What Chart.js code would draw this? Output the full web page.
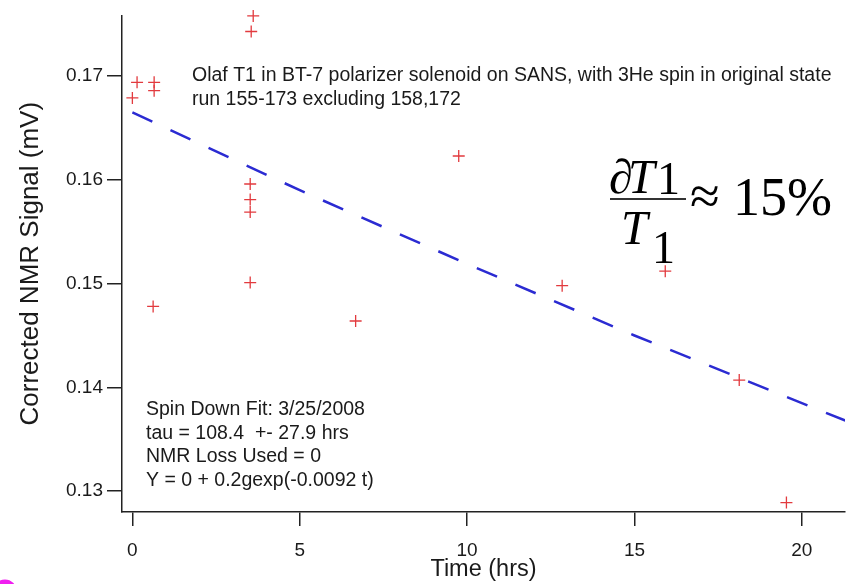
<!DOCTYPE html>
<html>
<head>
<meta charset="utf-8">
<title>Olaf T1 spin-down</title>
<script src="https://cdn.jsdelivr.net/npm/chart.js@4/dist/chart.umd.min.js"></script>
<style>
  html, body { margin: 0; padding: 0; background: #ffffff; }
  canvas { display: block; }
</style>
</head>
<body>
<canvas id="c" width="864" height="584"></canvas>
<script>
// Measured NMR signal after correction, per run
const timeHrs   = [0, 0.14, 0.65, 0.65, 0.62, 3.61, 3.55, 3.52, 3.52, 3.52, 3.52, 6.67, 9.75, 12.84, 15.92, 18.13, 19.54];
const signalMV  = [0.1679, 0.1694, 0.1694, 0.1686, 0.1478, 0.1758, 0.1743, 0.1596, 0.1581, 0.1569, 0.1501, 0.1464, 0.1623, 0.1498, 0.1512, 0.1407, 0.1289];

// Spin-down fit curve (tau = 108.4 hrs)
const fitTimeHrs  = [0, 5, 10, 15, 21.3];
const fitSignalMV = [0.1665, 0.1590, 0.1519, 0.1450, 0.1368];

// Axis ticks
const xTickValues = [0, 5, 10, 15, 20];
const yTickValues = [0.13, 0.14, 0.15, 0.16, 0.17];

const noteTop = [
  'Olaf T1 in BT-7 polarizer solenoid on SANS, with 3He spin in original state',
  'run 155-173 excluding 158,172'
];
const noteFit = [
  'Spin Down Fit: 3/25/2008',
  'tau = 108.4  +- 27.9 hrs',
  'NMR Loss Used = 0',
  'Y = 0 + 0.2gexp(-0.0092 t)'
];

const measured = timeHrs.map((t, i) => ({ x: t, y: signalMV[i] }));
const fitted = fitTimeHrs.map((t, i) => ({ x: t, y: fitSignalMV[i] }));

const SANS = "'Liberation Sans', Arial, sans-serif";
const SERIF = "'Liberation Serif', 'Times New Roman', serif";

// Text annotations and the relative-error formula
const annotations = {
  id: 'annotations',
  afterDraw(chart) {
    const ctx = chart.ctx;
    ctx.save();
    ctx.fillStyle = '#1a1a1a';
    ctx.textAlign = 'left';
    ctx.textBaseline = 'middle';
    ctx.font = '19.5px ' + SANS;
    noteTop.forEach((s, i) => ctx.fillText(s, 192, 76 + i * 24));
    noteFit.forEach((s, i) => ctx.fillText(s, 146, 410 + i * 23.4));

    // dT1 / T1 ≈ 15%
    ctx.textBaseline = 'alphabetic';
    ctx.fillStyle = '#000';
    ctx.font = 'italic 48px ' + SERIF;
    ctx.fillText('\u2202', 609, 193);
    ctx.fillText('T', 628, 193);
    ctx.font = '46px ' + SERIF;
    ctx.fillText('1', 657, 194);
    ctx.strokeStyle = '#333';
    ctx.lineWidth = 2;
    ctx.beginPath();
    ctx.moveTo(610, 199);
    ctx.lineTo(686, 199);
    ctx.stroke();
    ctx.font = 'italic 48px ' + SERIF;
    ctx.fillText('T', 621, 244);
    ctx.font = '46px ' + SERIF;
    ctx.fillText('1', 652, 263);
    ctx.font = '54px ' + SERIF;
    ctx.fillText('\u2248', 690, 214);
    ctx.fillText('15%', 733, 215);

    // magenta mark in the lower-left corner
    ctx.strokeStyle = '#f01ef0';
    ctx.lineWidth = 5;
    ctx.beginPath();
    ctx.arc(5, 591, 9, 0, Math.PI * 2);
    ctx.stroke();
    ctx.restore();
  }
};

new Chart(document.getElementById('c'), {
  type: 'scatter',
  data: {
    datasets: [
      {
        label: 'Corrected NMR signal',
        data: measured,
        pointStyle: 'cross',
        pointRadius: 6,
        pointHoverRadius: 6,
        borderColor: '#e23a3e',
        backgroundColor: '#e23a3e',
        borderWidth: 1.3,
        showLine: false,
        clip: false
      },
      {
        label: 'Spin down fit',
        data: fitted,
        showLine: true,
        borderColor: '#2b2bd2',
        borderWidth: 2.5,
        borderDash: [22, 20],
        borderCapStyle: 'butt',
        pointRadius: 0,
        pointHoverRadius: 0,
        fill: false,
        tension: 0
      }
    ]
  },
  options: {
    responsive: false,
    devicePixelRatio: 1,
    animation: false,
    events: [],
    layout: { padding: { left: 0, right: 19, top: 14, bottom: 0 } },
    plugins: {
      legend: { display: false },
      tooltip: { enabled: false }
    },
    scales: {
      x: {
        type: 'linear',
        min: -0.31,
        max: 21.29,
        afterBuildTicks: s => { s.ticks = xTickValues.map(v => ({ value: v })); },
        afterFit: s => { s.height = 72; },
        ticks: {
          color: '#1a1a1a',
          font: { family: SANS, size: 19 },
          padding: 13,
          maxRotation: 0,
          callback: v => String(v)
        },
        grid: {
          drawOnChartArea: false,
          drawTicks: true,
          tickLength: 14,
          color: '#222',
          lineWidth: 1.5
        },
        border: { display: true, color: '#222', width: 1.5 },
        title: {
          display: true,
          text: 'Time (hrs)',
          color: '#1a1a1a',
          font: { family: SANS, size: 23.5 },
          padding: { top: 0, bottom: 0 }
        }
      },
      y: {
        type: 'linear',
        min: 0.12799,
        max: 0.17585,
        afterBuildTicks: s => { s.ticks = yTickValues.map(v => ({ value: v })); },
        afterFit: s => { s.width = 122; },
        ticks: {
          color: '#1a1a1a',
          font: { family: SANS, size: 19 },
          padding: 4,
          callback: v => Number(v).toFixed(2)
        },
        grid: {
          drawOnChartArea: false,
          drawTicks: true,
          tickLength: 15,
          color: '#222',
          lineWidth: 1.5
        },
        border: { display: true, color: '#222', width: 1.5 },
        title: {
          display: true,
          text: 'Corrected NMR Signal (mV)',
          color: '#1a1a1a',
          font: { family: SANS, size: 26 },
          padding: { top: 15, bottom: 0 }
        }
      }
    }
  },
  plugins: [annotations]
});
</script>
</body>
</html>
